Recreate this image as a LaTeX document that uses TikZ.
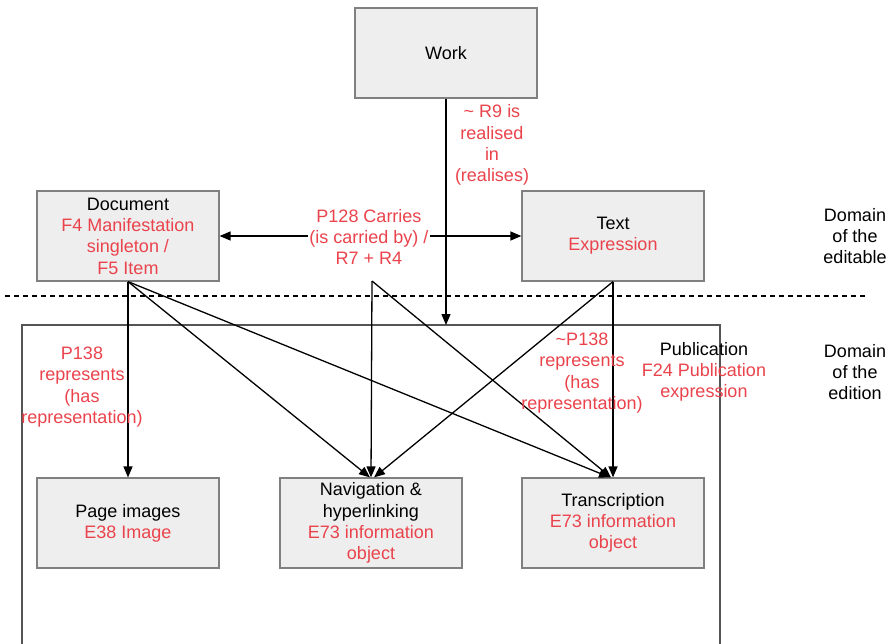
\documentclass[tikz,border=0pt]{standalone}
\usepackage{fontspec}
\setmainfont{Liberation Sans}
\usetikzlibrary{arrows.meta}
\definecolor{lblred}{RGB}{234,67,76}
\definecolor{boxfill}{RGB}{238,238,238}
\definecolor{boxdraw}{RGB}{128,128,128}
\definecolor{contdraw}{RGB}{85,85,85}
\tikzset{
  every node/.style={font=\fontsize{18}{21.3}\selectfont, align=center, inner sep=0pt},
  ebox/.style={draw=boxdraw, fill=boxfill, line width=1.2pt, minimum width=182pt, minimum height=90pt},
  rel/.style={text=lblred},
  conn/.style={line width=1.3pt, -{Triangle[length=11pt,width=9pt]}},
  dconn/.style={line width=1.3pt, {Triangle[length=11pt,width=9pt]}-{Triangle[length=11pt,width=9pt]}},
}
\begin{document}
\begin{tikzpicture}[x=1pt,y=-1pt]
\useasboundingbox[fill=white] (0,0) rectangle (891,643);
% container
\draw[contdraw, line width=1.3pt] (22,645) -- (22,325) -- (720,325) -- (720,645);
\coordinate (pubtop) at (446,325);
% dashed separator
\coordinate (dashL) at (5,296);
\coordinate (dashR) at (868,296);
\draw[line width=1.2pt, dash pattern=on 5pt off 4pt] (dashL) -- (dashR);
% boxes
\node[ebox] (work) at (446,53) {Work};
\node[ebox] (doc) at (128,236) {Document\\\textcolor{lblred}{F4 Manifestation}\\\textcolor{lblred}{singleton /}\\\textcolor{lblred}{F5 Item}};
\node[ebox] (text) at (613,236) {Text\\\textcolor{lblred}{Expression}};
\node[ebox] (page) at (128,523) {Page images\\\textcolor{lblred}{E38 Image}};
\node[ebox] (nav) at (371,523) {Navigation \&\\hyperlinking\\\textcolor{lblred}{E73 information}\\\textcolor{lblred}{object}};
\node[ebox] (trans) at (613,523) {Transcription\\\textcolor{lblred}{E73 information}\\\textcolor{lblred}{object}};
% side labels
\node (dedit) at (855,236) {Domain\\of the\\editable};
\node (dediti) at (855,372) {Domain\\of the\\edition};
\node (pub) at (704,372) {Publication\\\textcolor{lblred}{F24 Publication}\\\textcolor{lblred}{expression}};
% Work -> container
\draw[conn] (work.south) -- (pubtop);
\node[rel] (r9) at (492,145) {\textasciitilde\ R9 is\\realised\\in\\(realises)};
% P128 double arrow
\draw[dconn] (doc.east) -- (text.west);
\node[rel, fill=white, inner sep=1pt] (p128) at (369,237) {P128 Carries\\(is carried by) /\\R7 + R4};
\coordinate (p128b) at (372,281);
% connectors to bottom boxes
\draw[conn] (doc.south) -- (page.north);
\draw[conn] (doc.south) -- ([xshift=-1pt]nav.north);
\draw[conn] (doc.south) -- ([xshift=-3pt]trans.north);
\draw[conn] (p128b) -- (nav.north);
\draw[conn] (p128b) -- ([xshift=-2pt]trans.north);
\draw[conn] (text.south) -- ([xshift=3pt]nav.north);
\draw[conn] (text.south) -- (trans.north);
% edge labels
\node[rel] (p138) at (82,387) {P138\\represents\\(has\\representation)};
\node[rel] (np138) at (582,373) {\textasciitilde P138\\represents\\(has\\representation)};
\end{tikzpicture}
\end{document}
